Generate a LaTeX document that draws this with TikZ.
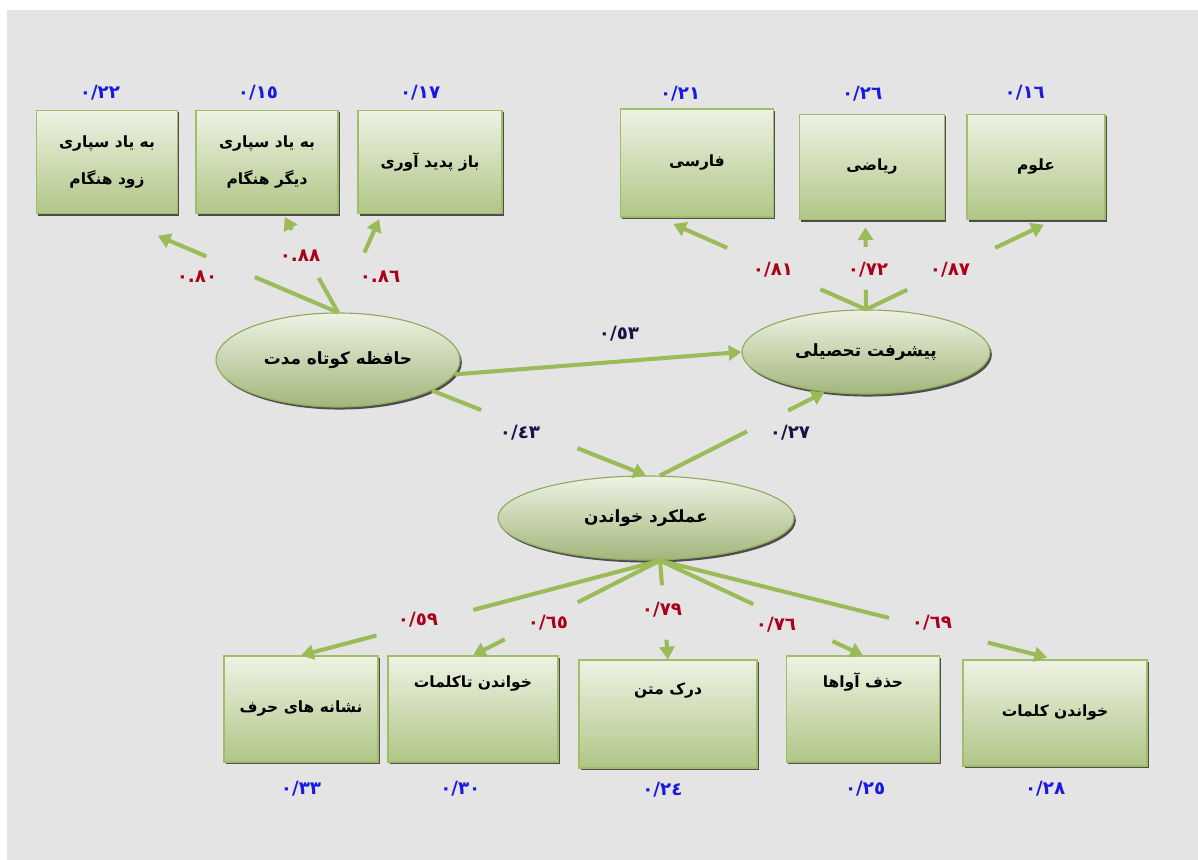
\documentclass[tikz,border=0pt]{standalone}
\usepackage{fontspec}
\usepackage{xcolor}
\usepackage{tikz}
\usetikzlibrary{positioning,arrows.meta,shapes.geometric,calc,shadows}
\TeXXeTstate=1
\newfontfamily\farsi[Script=Arabic]{DejaVu Sans}
\definecolor{pagegray}{RGB}{228,228,228}
\definecolor{linkgreen}{RGB}{155,187,89}
\definecolor{boxedge}{RGB}{160,190,105}
\definecolor{boxtop}{RGB}{238,242,228}
\definecolor{boxbottom}{RGB}{176,198,134}
\definecolor{loadred}{RGB}{170,0,25}
\definecolor{errblue}{RGB}{25,25,225}
\definecolor{pathnavy}{RGB}{20,20,70}
\newcommand{\fatext}[1]{\beginR #1\endR}
\newcommand{\splitlink}[5]{%
  \draw[link] (#1) -- ($(#1)!#3!(#2)$);
  \draw[link,tip] ($(#1)!#4!(#2)$) -- ($(#1)!#5!(#2)$);}

\begin{document}
\begin{tikzpicture}[
  x=0.025cm, y=-0.025cm,
  box/.style={rectangle, draw=boxedge, line width=0.8pt, top color=boxtop,
              bottom color=boxbottom, align=center, inner sep=2pt,
              drop shadow={shadow xshift=1.3pt, shadow yshift=-1.5pt, fill=black!80, opacity=0.85},
              font=\farsi\bfseries\fontsize{11}{16}\selectfont},
  latent/.style={ellipse, draw=boxedge!90!black, line width=0.8pt, top color=boxtop,
                 bottom color=boxbottom!92!black, inner sep=0pt,
                 drop shadow={shadow xshift=1.3pt, shadow yshift=-1.8pt, fill=black!80, opacity=0.85},
                 font=\farsi\bfseries\fontsize{12}{14}\selectfont},
  raised/.style={text height=11pt, text depth=#1},
  link/.style={draw=linkgreen, line width=2.9pt},
  tip/.style={-{Triangle[length=9pt,width=10.5pt]}},
  load/.style={text=loadred, font=\farsi\bfseries\fontsize{13}{15}\selectfont},
  err/.style={text=errblue, font=\farsi\bfseries\fontsize{13}{15}\selectfont},
  coef/.style={text=pathnavy, font=\farsi\bfseries\fontsize{13}{15}\selectfont}
]
\useasboundingbox (0,0) rectangle (1198,860);
\fill[pagegray] (7,10) rectangle (1198,860);

% Latent variables
\node[latent, minimum width=6.1cm, minimum height=2.35cm] (stm) at (338,360) {\fatext{حافظه کوتاه مدت}};
\node[latent, minimum width=6.2cm, minimum height=2.1cm] (pt) at (866,352) {\fatext{پیشرفت تحصیلی}};
\node[latent, minimum width=7.4cm, minimum height=2.1cm] (rp) at (646,518) {\fatext{عملکرد خواندن}};

% Memory indicators
\node[box, minimum width=3.53cm, minimum height=2.58cm] (b1) at (107,162) {\fatext{به یاد سپاری}\\[11pt]\fatext{زود هنگام}};
\node[box, minimum width=3.55cm, minimum height=2.58cm] (b2) at (267,162) {\fatext{به یاد سپاری}\\[11pt]\fatext{دیگر هنگام}};
\node[box, minimum width=3.6cm, minimum height=2.58cm] (b3) at (430,162) {\fatext{باز پدید آوری}};

% Achievement indicators
\node[box, minimum width=3.83cm, minimum height=2.7cm] (f) at (697,163) {\fatext{فارسی}};
\node[box, minimum width=3.63cm, minimum height=2.63cm] (r) at (872,167) {\fatext{ریاضی}};
\node[box, minimum width=3.45cm, minimum height=2.63cm] (o) at (1036,167) {\fatext{علوم}};

% Reading indicators
\node[box, minimum width=3.85cm, minimum height=2.65cm] (n1) at (301,709) {\fatext{نشانه های حرف}};
\node[box, raised=42pt, minimum width=4.25cm, minimum height=2.65cm] (n2) at (473,709) {\fatext{خواندن تاکلمات}};
\node[box, raised=39pt, minimum width=4.45cm, minimum height=2.7cm] (n3) at (668,714) {\fatext{درک متن}};
\node[box, raised=42pt, minimum width=3.83cm, minimum height=2.65cm] (n4) at (863,709) {\fatext{حذف آواها}};
\node[box, minimum width=4.6cm, minimum height=2.65cm] (n5) at (1055,713) {\fatext{خواندن کلمات}};

% Error variances
\node[err, above=3.5pt of b1, xshift=-5pt] (e1) {٠/٢٢};
\node[err, above=3.5pt of b2, xshift=-6.4pt] (e2) {٠/١٥};
\node[err, above=3.5pt of b3, xshift=-7pt] (e3) {٠/١٧};
\node[err, above=1.5pt of f, xshift=-12pt] (e4) {٠/٢١};
\node[err, above=5.5pt of r, xshift=-7pt] (e5) {٠/٢٦};
\node[err, above=6.5pt of o, xshift=-8pt] (e6) {٠/١٦};
\node[err, below=10pt of n1] (e7) {٠/٣٣};
\node[err, below=10pt of n2, xshift=-9pt] (e8) {٠/٣٠};
\node[err, below=6pt of n3, xshift=-4pt] (e9) {٠/٢٤};
\node[err, below=10pt of n4, xshift=1.5pt] (e10) {٠/٢٥};
\node[err, below=7pt of n5, xshift=-7pt] (e11) {٠/٢٨};

% Loadings
\node[load] (l1) at (197,277) {٠.٨٠};
\node[load] (l2) at (300,256) {٠.٨٨};
\node[load] (l3) at (380,277) {٠.٨٦};
\node[load] (l4) at (773,270) {٠/٨١};
\node[load] (l5) at (868,270) {٠/٧٢};
\node[load] (l6) at (950,270) {٠/٨٧};
\node[load] (l7) at (418,620) {٠/٥٩};
\node[load] (l8) at (548,623) {٠/٦٥};
\node[load] (l9) at (662,610) {٠/٧٩};
\node[load] (l10) at (776,625) {٠/٧٦};
\node[load] (l11) at (932,623) {٠/٦٩};

% Path coefficients
\node[coef] (c1) at (619,334) {٠/٥٣};
\node[coef] (c2) at (520,433) {٠/٤٣};
\node[coef] (c3) at (790,433) {٠/٢٧};

% Arrows
\splitlink{stm.north}{b1.south}{0.36}{0.57}{0.78}
\splitlink{stm.north}{b2.-73}{0.35}{0.84}{0.97}
\draw[link,tip] ($(stm.north)!0.61!(b3.-133)$) -- ($(stm.north)!0.95!(b3.-133)$);
\splitlink{pt.north}{f.-125}{0.22}{0.67}{0.93}
\splitlink{pt.north}{r.-97}{0.22}{0.70}{0.92}
\splitlink{pt.north}{o.-72}{0.22}{0.69}{0.95}
\draw[link,tip] (stm.-7) -- (pt.west);
\splitlink{stm.-18}{rp.north}{0.23}{0.68}{1}
\splitlink{rp.72}{pt.-136}{0.53}{0.78}{1}
\coordinate (rphub) at ($(rp.south)+(14,0)$);
\splitlink{rphub}{n1.north}{0.52}{0.79}{1}
\splitlink{rphub}{n2.north}{0.44}{0.83}{1}
\splitlink{rphub}{n3.north}{0.25}{0.80}{1}
\splitlink{rphub}{n4.north}{0.46}{0.85}{1}
\splitlink{rphub}{n5.north}{0.58}{0.83}{0.98}

\end{tikzpicture}
\end{document}
